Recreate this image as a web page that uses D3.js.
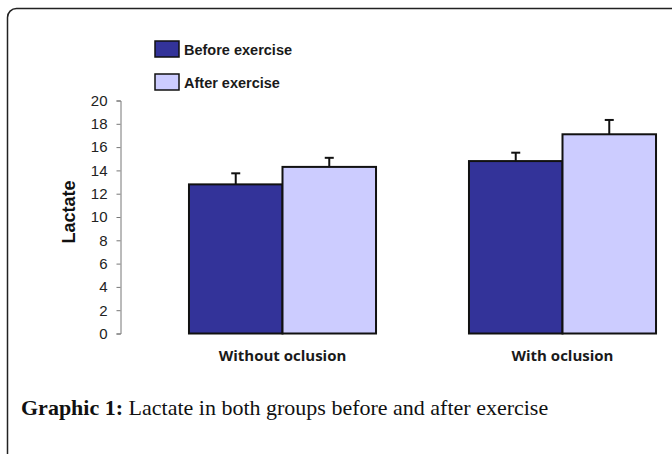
<!DOCTYPE html>
<html>
<head>
<meta charset="utf-8">
<script src="https://cdn.jsdelivr.net/npm/d3@7"></script>
<style>
  body { margin: 0; background: #fff; }
  svg { display: block; }
</style>
</head>
<body>
<svg id="chart" width="672" height="454"></svg>
<script>
// chart data
const categories = ["Without oclusion", "With oclusion"];
const series = ["Before exercise", "After exercise"];
const beforeValues = [12.8, 14.8];
const afterValues = [14.3, 17.1];
const beforeErrors = [0.95, 0.72];
const afterErrors = [0.78, 1.23];
const yTicks = [0, 2, 4, 6, 8, 10, 12, 14, 16, 18, 20];
const colors = ["#333399", "#ccccff"];

const svg = d3.select("#chart");

// outer frame (rounded, runs off the right and bottom)
svg.append("rect")
  .attr("x", 7.5).attr("y", 8.5)
  .attr("width", 700).attr("height", 500)
  .attr("rx", 9).attr("ry", 9)
  .attr("fill", "none")
  .attr("stroke", "#222")
  .attr("stroke-width", 1.5);

const y = d3.scaleLinear().domain([0, 20]).range([333.5, 100.5]);

const x0 = d3.scaleBand()
  .domain(categories)
  .range([142.5, 702.5])
  .paddingInner(0.332)
  .paddingOuter(0.166);

const x1 = d3.scaleBand()
  .domain(series)
  .range([0, x0.bandwidth()]);

// y axis
const yAxis = d3.axisLeft(y).tickValues(yTicks).tickSize(4).tickPadding(9);
const gy = svg.append("g")
  .attr("transform", "translate(120.5,0)")
  .call(yAxis);
gy.select(".domain").attr("stroke", "#777");
gy.selectAll(".tick line").attr("stroke", "#777");
gy.selectAll(".tick text")
  .attr("fill", "#222")
  .style("font-family", "Liberation Sans, Arial, sans-serif")
  .style("font-size", "15px");

// y label
svg.append("text")
  .attr("transform", "translate(75,212) rotate(-90)")
  .attr("text-anchor", "middle")
  .style("font-family", "Liberation Sans, Arial, sans-serif")
  .style("font-weight", "bold")
  .style("font-size", "18px")
  .attr("fill", "#111")
  .text("Lactate");

// bars
const rows = categories.map((c, i) => ({
  category: c,
  items: [
    { key: series[0], value: beforeValues[i], err: beforeErrors[i] },
    { key: series[1], value: afterValues[i], err: afterErrors[i] }
  ]
}));

const group = svg.append("g")
  .selectAll("g")
  .data(rows)
  .join("g")
  .attr("transform", (d) => `translate(${x0(d.category)},0)`);

// error bars (drawn first so bar outline sits over them)
group.selectAll(".err")
  .data((d) => d.items)
  .join("g")
  .attr("class", "err")
  .each(function (d) {
    const g = d3.select(this);
    const cx = x1(d.key) + x1.bandwidth() / 2;
    g.append("line")
      .attr("x1", cx).attr("x2", cx)
      .attr("y1", y(d.value)).attr("y2", y(d.value + d.err))
      .attr("stroke", "#111").attr("stroke-width", 2);
    g.append("line")
      .attr("x1", cx - 4.5).attr("x2", cx + 4.5)
      .attr("y1", y(d.value + d.err)).attr("y2", y(d.value + d.err))
      .attr("stroke", "#111").attr("stroke-width", 2);
  });

group.selectAll("rect")
  .data((d) => d.items)
  .join("rect")
  .attr("x", (d) => x1(d.key))
  .attr("y", (d) => y(d.value))
  .attr("width", x1.bandwidth())
  .attr("height", (d) => y(0) - y(d.value))
  .attr("fill", (d, i) => colors[i])
  .attr("stroke", "#111")
  .attr("stroke-width", 2);

// category labels
svg.append("g")
  .selectAll("text")
  .data(categories)
  .join("text")
  .attr("x", (d) => x0(d) + x0.bandwidth() / 2)
  .attr("y", 361)
  .attr("text-anchor", "middle")
  .style("font-family", "Open Sans, sans-serif")
  .style("font-weight", "bold")
  .style("font-size", "15px")
  .attr("fill", "#1a1a1a")
  .text((d) => d);

// legend
const legend = svg.append("g")
  .selectAll("g")
  .data(series)
  .join("g")
  .attr("transform", (d, i) => `translate(155,${41 + i * 33})`);

legend.append("rect")
  .attr("width", 24).attr("height", 16)
  .attr("fill", (d, i) => colors[i])
  .attr("stroke", "#111")
  .attr("stroke-width", 1.5);

legend.append("text")
  .attr("x", 29).attr("y", 13.5)
  .style("font-family", "Liberation Sans Narrow, sans-serif")
  .style("font-weight", "bold")
  .style("font-size", "14.5px")
  .attr("fill", "#1a1a1a")
  .text((d) => d);

// caption
const caption = svg.append("text")
  .attr("x", 21).attr("y", 415)
  .style("font-family", "Liberation Serif, serif")
  .style("font-size", "22px")
  .attr("fill", "#111");
caption.append("tspan").style("font-weight", "bold").text("Graphic 1:");
caption.append("tspan").text(" Lactate in both groups before and after exercise");
</script>
</body>
</html>
